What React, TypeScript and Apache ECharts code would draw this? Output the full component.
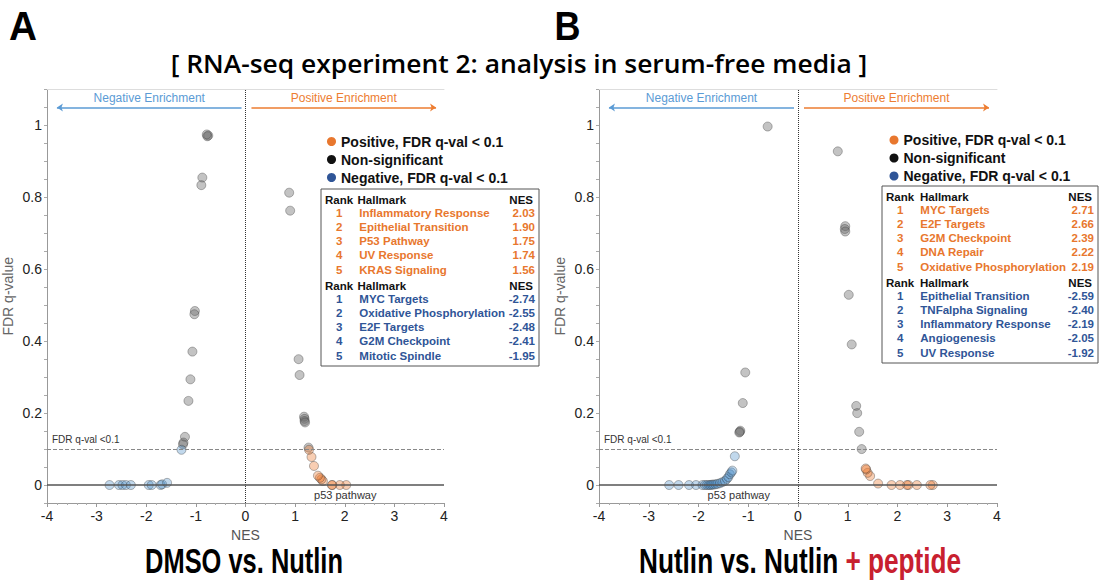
import React, { useEffect, useRef } from 'react';
import * as echarts from 'echarts';

const W = 1099;
const H = 584;
const FONT = "'Liberation Sans', Arial, Helvetica, sans-serif";
const TITLE_FAMILY = "'Open Sans', 'Liberation Sans', sans-serif";

const SERIES_NAMES = ['Positive, FDR q-val < 0.1', 'Non-significant', 'Negative, FDR q-val < 0.1'];

// Axis ranges
const X_MIN = -4;
const X_MAX = 4;
const Y_MIN = -0.05;
const Y_MAX = 1.1;
const FDR_CUTOFF = 0.1;

// Panel A: DMSO vs. Nutlin   [NES, FDR q-value]
const dmsoPositive = [
  [2.03, 0], [1.9, 0], [1.75, 0], [1.74, 0], [1.56, 0.011], [1.53, 0.016], [1.5, 0.02],
  [1.46, 0.026], [1.38, 0.053], [1.33, 0.078], [1.28, 0.098],
];
const dmsoNonSig = [
  [-0.75, 0.972], [-0.77, 0.97], [-0.78, 0.975], [-0.87, 0.855], [-0.89, 0.834],
  [-1.02, 0.484], [-1.03, 0.475], [-1.07, 0.371], [-1.11, 0.294], [-1.15, 0.234],
  [-1.22, 0.134], [-1.25, 0.118], [-1.26, 0.113],
  [0.88, 0.813], [0.9, 0.763], [1.07, 0.35], [1.09, 0.306], [1.18, 0.19], [1.19, 0.184],
  [1.19, 0.178], [1.2, 0.174], [1.27, 0.104],
];
const dmsoNegative = [
  [-2.74, 0], [-2.55, 0], [-2.48, 0], [-2.41, 0], [-2.31, 0], [-1.95, 0], [-1.89, 0],
  [-1.71, 0], [-1.68, 0.002], [-1.58, 0.006], [-1.29, 0.098],
];

// Panel B: Nutlin vs. Nutlin + peptide   [NES, FDR q-value]
const pepPositive = [
  [2.71, 0], [2.66, 0], [2.39, 0], [2.22, 0], [2.19, 0], [2.05, 0], [1.88, 0],
  [1.61, 0.004], [1.45, 0.025], [1.4, 0.034], [1.37, 0.043], [1.36, 0.046],
];
const pepNonSig = [
  [-0.61, 0.997], [-1.06, 0.313], [-1.11, 0.228], [-1.16, 0.151], [-1.17, 0.148], [-1.18, 0.146],
  [0.8, 0.928], [0.95, 0.72], [0.94, 0.712], [0.95, 0.705], [1.02, 0.529], [1.08, 0.391],
  [1.17, 0.22], [1.19, 0.2], [1.23, 0.148], [1.28, 0.1],
];
const pepNegative = [
  [-2.59, 0], [-2.4, 0], [-2.19, 0], [-2.05, 0], [-1.92, 0], [-1.87, 0], [-1.83, 0], [-1.79, 0],
  [-1.76, 0], [-1.73, 0.001], [-1.7, 0.001], [-1.66, 0.002], [-1.62, 0.003], [-1.57, 0.005],
  [-1.52, 0.008], [-1.47, 0.011], [-1.43, 0.017], [-1.4, 0.022], [-1.37, 0.03], [-1.34, 0.035],
  [-1.32, 0.04], [-1.27, 0.08],
];

// Top-5 hallmark tables
const dmsoTopPos = ['Inflammatory Response', 'Epithelial Transition', 'P53 Pathway', 'UV Response', 'KRAS Signaling'];
const dmsoTopPosNES = [2.03, 1.9, 1.75, 1.74, 1.56];
const dmsoTopNeg = ['MYC Targets', 'Oxidative Phosphorylation', 'E2F Targets', 'G2M Checkpoint', 'Mitotic Spindle'];
const dmsoTopNegNES = [-2.74, -2.55, -2.48, -2.41, -1.95];
const pepTopPos = ['MYC Targets', 'E2F Targets', 'G2M Checkpoint', 'DNA Repair', 'Oxidative Phosphorylation'];
const pepTopPosNES = [2.71, 2.66, 2.39, 2.22, 2.19];
const pepTopNeg = ['Epithelial Transition', 'TNFalpha Signaling', 'Inflammatory Response', 'Angiogenesis', 'UV Response'];
const pepTopNegNES = [-2.59, -2.4, -2.19, -2.05, -1.92];

// Annotation anchors (data coords)
const p53LabelDmso = [2.01, -0.028];
const p53LabelPep = [-1.19, -0.028];

const ORANGE = '#E8772E';
const TABLE_BLUE = '#2F5597';
const ARROW_BLUE = '#5B9BD5';
const ARROW_ORANGE = '#ED7D31';
const RED = '#C8202F';

function measure(text: string, font: string): number {
  const ctx = document.createElement('canvas').getContext('2d');
  if (!ctx) return text.length * 10;
  ctx.font = font;
  return ctx.measureText(text).width;
}

function fittedText(text: string, font: string, cx: number, cy: number, targetW: number, fill = '#000') {
  const w = measure(text, font);
  const s = targetW / w;
  return {
    type: 'text', x: cx, y: cy, scaleX: s, z: 10,
    style: { text, font, fill, align: 'center', textAlign: 'center', verticalAlign: 'middle', textVerticalAlign: 'middle' },
  };
}

function twoToneTitle(a: string, b: string, font: string, cx: number, cy: number, targetW: number) {
  const w1 = measure(a, font);
  const w2 = measure(b, font);
  const s = targetW / (w1 + w2);
  return {
    type: 'group', x: cx - (targetW / 2), y: cy, scaleX: s, z: 10,
    children: [
      { type: 'text', x: 0, y: 0, style: { text: a, font, fill: '#000', align: 'left', textAlign: 'left', verticalAlign: 'middle', textVerticalAlign: 'middle' } },
      { type: 'text', x: w1, y: 0, style: { text: b, font, fill: RED, align: 'left', textAlign: 'left', verticalAlign: 'middle', textVerticalAlign: 'middle' } },
    ],
  };
}

function makeTable(left: number, top: number, width: number, hallHeaderDx: number,
  posNames: string[], posNES: number[], negNames: string[], negNES: number[]) {
  const els: any[] = [];
  els.push({ type: 'rect', z: 5, shape: { x: left, y: top, width, height: 177 }, style: { fill: '#fff', stroke: '#555', lineWidth: 1 } });
  const font = `bold 11.5px ${FONT}`;
  const txt = (x: number, y: number, text: string, color: string, align = 'left') => ({
    type: 'text', x, y, z: 6,
    style: { text, fill: color, font, align, textAlign: align, verticalAlign: 'middle', textVerticalAlign: 'middle' },
  });
  const blocks: [string[], number[], string, number][] = [
    [posNames, posNES, ORANGE, 10.5],
    [negNames, negNES, TABLE_BLUE, 96.5],
  ];
  blocks.forEach(([names, vals, color, hy]) => {
    els.push(txt(left + 4, top + hy, 'Rank', '#111'));
    els.push(txt(left + hallHeaderDx, top + hy, 'Hallmark', '#111'));
    els.push(txt(left + width - 6, top + hy, 'NES', '#111', 'right'));
    names.forEach((n, i) => {
      const y = top + hy + 13 + i * 14.25;
      els.push(txt(left + 18.3, y, String(i + 1), color, 'center'));
      els.push(txt(left + 38.3, y, n, color));
      els.push(txt(left + width - 4, y, vals[i].toFixed(2), color, 'right'));
    });
  });
  return els;
}

function xAxes(gridIndex: number) {
  return [
    {
      type: 'value', gridIndex, min: X_MIN, max: X_MAX, interval: 1, position: 'bottom',
      axisLine: { show: true, onZero: false, lineStyle: { color: '#999', width: 1 } },
      axisTick: { show: true, length: 4, lineStyle: { color: '#999' } },
      minorTick: { show: true, splitNumber: 5, length: 2, lineStyle: { color: '#aaa' } },
      splitLine: { show: false },
      axisLabel: { fontSize: 14, color: '#222', margin: 6, fontFamily: FONT },
      name: 'NES', nameLocation: 'middle', nameGap: 24,
      nameTextStyle: { fontSize: 14, color: '#555', fontFamily: FONT },
    },
    {
      type: 'value', gridIndex, min: X_MIN, max: X_MAX, position: 'top',
      axisLine: { show: true, onZero: false, lineStyle: { color: '#ddd', width: 1 } },
      axisTick: { show: false }, axisLabel: { show: false }, splitLine: { show: false },
    },
  ];
}

function yAxis(gridIndex: number) {
  return {
    type: 'value', gridIndex, min: Y_MIN, max: Y_MAX, interval: 0.05,
    axisLine: { show: true, onZero: false, lineStyle: { color: '#999', width: 1 } },
    axisTick: { show: true, length: 3, lineStyle: { color: '#aaa' } },
    splitLine: { show: false },
    axisLabel: {
      fontSize: 14, color: '#222', margin: 5, fontFamily: FONT,
      formatter: (v: number) => {
        const k = v * 5;
        if (Math.abs(k - Math.round(k)) < 1e-6) return String(Math.round(k) / 5);
        return '';
      },
    },
    name: 'FDR q-value', nameLocation: 'middle', nameGap: 32,
    nameTextStyle: { fontSize: 14, color: '#666', fontFamily: FONT },
  };
}

function pointSeries(name: string, data: number[][], xi: number, yi: number, color: string) {
  return {
    type: 'scatter', name, data, xAxisIndex: xi, yAxisIndex: yi, symbolSize: 9, z: 3,
    itemStyle: { color, borderColor: 'rgba(50,50,50,0.55)', borderWidth: 0.8 },
    emphasis: { disabled: true },
  };
}

function guideSeries(xi: number, yi: number, p53: number[]) {
  return {
    type: 'scatter', name: 'guides', data: [], xAxisIndex: xi, yAxisIndex: yi, z: 1, silent: true,
    markLine: {
      silent: true, symbol: 'none', animation: false,
      data: [
        { xAxis: 0, lineStyle: { type: 'dotted', color: '#333', width: 1 }, label: { show: false } },
        {
          yAxis: FDR_CUTOFF, lineStyle: { type: 'dashed', color: '#888', width: 1 },
          label: { show: true, position: 'insideStartTop', formatter: 'FDR q-val <0.1', color: '#333', fontSize: 10, fontFamily: FONT },
        },
        { yAxis: 0, lineStyle: { type: 'solid', color: '#555', width: 1.5 }, label: { show: false } },
        [
          { coord: [-3.8, 1.05], symbol: 'arrow', symbolSize: 6 },
          {
            coord: [-0.08, 1.05], symbol: 'none',
            lineStyle: { type: 'solid', color: ARROW_BLUE, width: 1.5 },
            label: { show: true, position: 'insideMiddleTop', formatter: 'Negative Enrichment', color: ARROW_BLUE, fontSize: 12, fontFamily: FONT, distance: 3 },
          },
        ],
        [
          { coord: [0.12, 1.05], symbol: 'none' },
          {
            coord: [3.84, 1.05], symbol: 'arrow', symbolSize: 6,
            lineStyle: { type: 'solid', color: ARROW_ORANGE, width: 1.5 },
            label: { show: true, position: 'insideMiddleTop', formatter: 'Positive Enrichment', color: ARROW_ORANGE, fontSize: 12, fontFamily: FONT, distance: 3 },
          },
        ],
      ],
    },
    markPoint: {
      silent: true, animation: false,
      data: [{
        coord: p53, symbol: 'rect', symbolSize: 1, itemStyle: { color: 'rgba(0,0,0,0)' },
        label: { show: true, position: 'inside', formatter: 'p53 pathway', color: '#333', fontSize: 11, fontFamily: FONT },
      }],
    },
  };
}

function legendFor(left: number, top: number) {
  const colors = [ORANGE, '#111', TABLE_BLUE];
  return {
    left, top, padding: 0, orient: 'vertical', itemWidth: 9, itemHeight: 9, itemGap: 3, icon: 'circle',
    selectedMode: false,
    textStyle: { fontSize: 14, fontWeight: 'bold', color: '#111', fontFamily: FONT, lineHeight: 15 },
    data: SERIES_NAMES.map((n, i) => ({ name: n, icon: 'circle', itemStyle: { color: colors[i], opacity: 1, borderWidth: 0 } })),
  };
}

function buildOption() {
  const posFill = 'rgba(235,120,45,0.45)';
  const nonFill = 'rgba(105,105,105,0.5)';
  const negFill = 'rgba(70,140,200,0.42)';
  const bigFont = `bold 40px ${FONT}`;
  const subFont = `bold 36px ${FONT}`;
  const headFont = `600 25px ${TITLE_FAMILY}`;
  return {
    animation: false,
    backgroundColor: '#fff',
    textStyle: { fontFamily: FONT },
    grid: [
      { left: 45, top: 89.5, width: 399, height: 413.5 },
      { left: 599, top: 89.5, width: 398, height: 413.5 },
    ],
    xAxis: [...xAxes(0), ...xAxes(1)],
    yAxis: [yAxis(0), yAxis(1)],
    legend: [legendFor(327, 134), legendFor(889.5, 132.5)],
    series: [
      guideSeries(0, 0, p53LabelDmso),
      pointSeries(SERIES_NAMES[1], dmsoNonSig, 0, 0, nonFill),
      pointSeries(SERIES_NAMES[2], dmsoNegative, 0, 0, negFill),
      pointSeries(SERIES_NAMES[0], dmsoPositive, 0, 0, posFill),
      guideSeries(2, 1, p53LabelPep),
      pointSeries(SERIES_NAMES[1], pepNonSig, 2, 1, nonFill),
      pointSeries(SERIES_NAMES[2], pepNegative, 2, 1, negFill),
      pointSeries(SERIES_NAMES[0], pepPositive, 2, 1, posFill),
    ],
    graphic: {
      elements: [
        fittedText('A', bigFont, 23, 26, 28),
        fittedText('B', bigFont, 567.5, 26, 26),
        fittedText('[ RNA-seq experiment 2: analysis in serum-free media ]', headFont, 519, 64, 697),
        fittedText('DMSO vs. Nutlin', subFont, 244, 561, 198),
        twoToneTitle('Nutlin vs. Nutlin ', '+ peptide', subFont, 800, 561, 322),
        ...makeTable(321, 189, 218, 36.5, dmsoTopPos, dmsoTopPosNES, dmsoTopNeg, dmsoTopNegNES),
        ...makeTable(882, 186, 216, 38, pepTopPos, pepTopPosNES, pepTopNeg, pepTopNegNES),
      ],
    },
  };
}

export default function App() {
  const ref = useRef<HTMLDivElement>(null);
  useEffect(() => {
    if (!ref.current) return;
    const chart = echarts.init(ref.current, null, { renderer: 'svg' });
    chart.setOption(buildOption() as any);
    return () => chart.dispose();
  }, []);
  return <div ref={ref} style={{ position: 'fixed', left: 0, top: 0, width: W, height: H, background: '#fff' }} />;
}
